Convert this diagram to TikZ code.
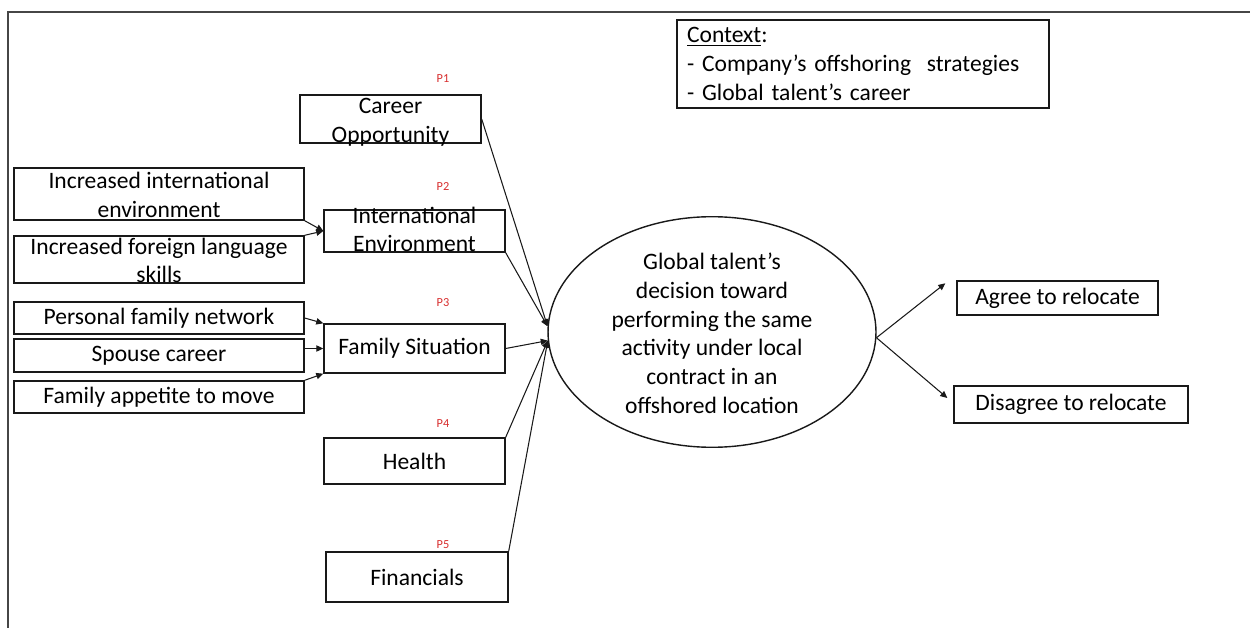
\documentclass[tikz,border=0pt]{standalone}
\usepackage{fontspec}
\setmainfont{Carlito}
\usepackage{xcolor}
\definecolor{plabel}{RGB}{215, 45, 45}
\definecolor{rim}{RGB}{70, 70, 70}
\usepackage{tikz}
\usetikzlibrary{shapes,arrows.meta}
\tikzstyle{factor} = [draw=black!90, line width=0.8pt, inner sep=0pt, align=center, font=\fontsize{13.4}{16.4}\selectfont]
\tikzstyle{twoline} = [text height=26.6pt, text depth=0pt]
\tikzstyle{decision} = [factor, ellipse, text height=92.8pt, text depth=0pt]
\tikzstyle{plab} = [text=plabel, font=\fontsize{7}{8}\selectfont, inner sep=0pt]
\tikzstyle{arr} = [line width=0.6pt, draw=black!90, -{Triangle[length=4pt,width=3.6pt]}]

\begin{document}
\begin{tikzpicture}[x=0.02cm, y=-0.02cm]
    \useasboundingbox (0,0) rectangle (1250,628);
    \draw[rim, line width=1pt] (8,628) -- (8,12) -- (1250,12);

    \node[factor, minimum width=7.44cm, minimum height=1.76cm, text width=7.04cm, align=left] (context) at (863,64)
        {\underline{Context}:\\- Company’s offshoring\ \ strategies\\- Global talent’s career};

    \node[factor, twoline, minimum width=3.62cm, minimum height=0.96cm] (career) at (390.5,119) {Career\\Opportunity};
    \node[factor, twoline, text height=23.8pt, minimum width=3.62cm, minimum height=0.84cm] (intenv) at (414.5,231) {International\\Environment};
    \node[factor, minimum width=3.62cm, minimum height=0.98cm] (famsit) at (414.5,348.5) {Family Situation};
    \node[factor, minimum width=3.62cm, minimum height=0.92cm] (health) at (414.5,461) {Health};
    \node[factor, minimum width=3.64cm, minimum height=1.00cm] (financ) at (417,577) {Financials};

    \node[factor, twoline, minimum width=5.8cm, minimum height=1.04cm] (incint) at (159,194) {Increased international\\environment};
    \node[factor, twoline, minimum width=5.8cm, minimum height=0.94cm] (inclang) at (159,259.5) {Increased foreign language\\skills};
    \node[factor, minimum width=5.8cm, minimum height=0.64cm] (persnet) at (159,318) {Personal family network};
    \node[factor, minimum width=5.8cm, minimum height=0.66cm] (spouse) at (159,355.5) {Spouse career};
    \node[factor, minimum width=5.8cm, minimum height=0.64cm] (appetite) at (159,397) {Family appetite to move};

    \node[decision, minimum width=6.56cm, minimum height=3.76cm] (dec) at (712,332)
        {Global talent’s\\decision toward\\performing the same\\activity under local\\contract in an\\offshored location};

    \node[factor, minimum width=4.02cm, minimum height=0.68cm] (agree) at (1057.5,298) {Agree to relocate};
    \node[factor, minimum width=4.68cm, minimum height=0.74cm] (disagree) at (1071,404.5) {Disagree to relocate};

    \foreach \i/\y in {1/79,2/187,3/303,4/424,5/545} {
        \node[plab] (p\i) at (443,\y) {P\i};
    }

    \draw[arr] (incint.south east) -- (intenv.west);
    \draw[arr] (inclang.north east) -- (intenv.west);
    \draw[arr] (persnet.east) -- (famsit.north west);
    \draw[arr] (spouse.east |- famsit.west) -- (famsit.west);
    \draw[arr] (appetite.north east) -- (famsit.south west);

    \foreach \s/\t in {career.east/dec.178, intenv.south east/dec.178, famsit.east/dec.183, health.north east/dec.183, financ.north east/dec.183} {
        \draw[arr] (\s) -- (\t);
    }

    \draw[arr] (dec.358) -- ([xshift=-0.22cm,yshift=-0.06cm]agree.north west);
    \draw[arr] (dec.358) -- ([xshift=-0.12cm,yshift=0.13cm]disagree.west);
\end{tikzpicture}
\end{document}
